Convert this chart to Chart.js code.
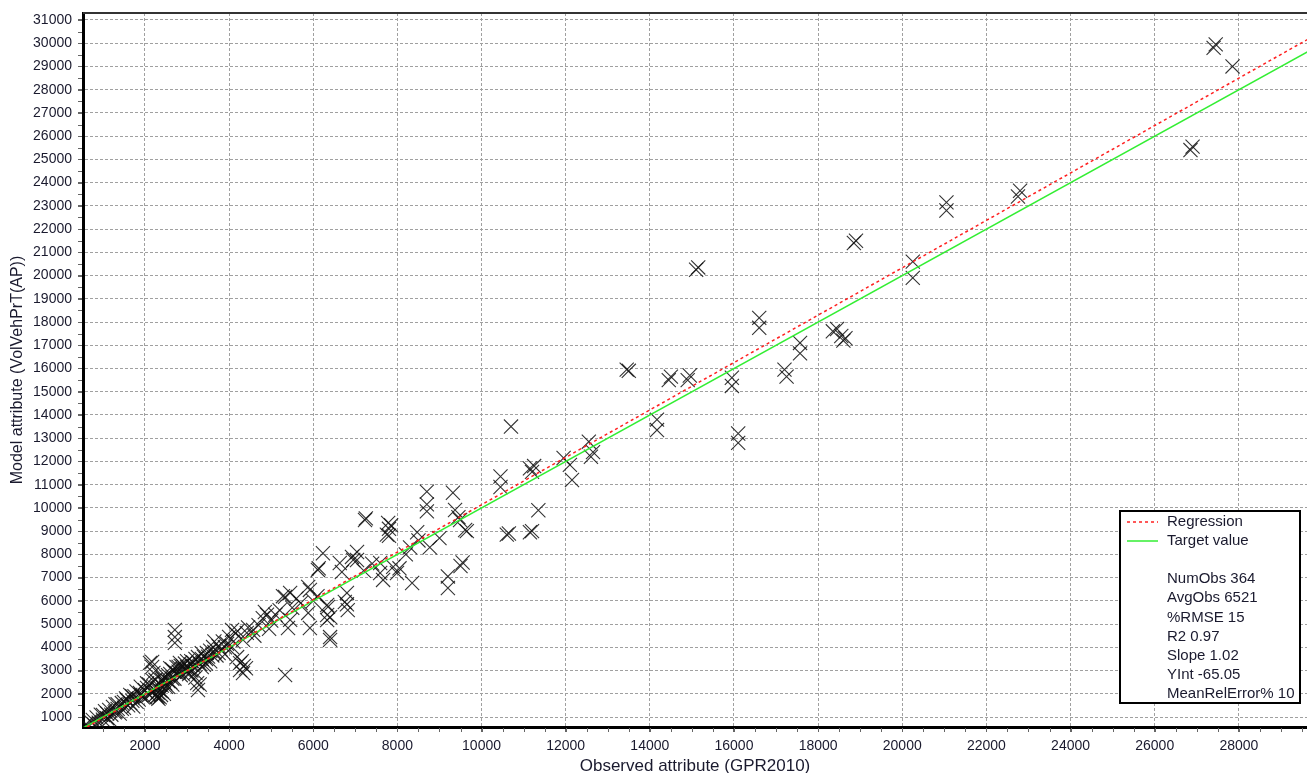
<!DOCTYPE html>
<html>
<head>
<meta charset="utf-8">
<script src="https://cdn.jsdelivr.net/npm/chart.js@4.4.0/dist/chart.umd.min.js"></script>
<style>
  html, body { margin: 0; padding: 0; background: #fff; }
  #wrap { width: 1307px; height: 773px; overflow: hidden; }
</style>
</head>
<body>
<div id="wrap"><canvas id="myChart" width="1307" height="773"></canvas></div>
<script>
// observed (GPR2010) vs model (VolVehPrT(AP))
const observed = [
  600, 650, 700, 760, 800, 850, 900, 950, 1000, 1000,
  1050, 1100, 1150, 1200, 1240, 1280, 1300, 1350, 1400, 1450,
  1500, 1550, 1570, 1600, 1650, 1700, 1720, 1750, 1800, 1850,
  1880, 1900, 1950, 2000, 2050, 2100, 2120, 2170, 2170, 2200,
  2200, 2250, 2290, 2300, 2320, 2350, 2380, 2400, 2420, 2450,
  2480, 2500, 2550, 2600, 2650, 2700, 2710, 2710, 2710, 2750,
  2800, 2830, 2850, 2900, 2950, 3000, 3050, 3100, 3150, 3200,
  3240, 3260, 3260, 3300, 3350, 3400, 3470, 3500, 3550, 3620,
  3650, 3700, 3750, 3800, 3850, 3900, 3950, 4000, 4070, 4070,
  4100, 4150, 4190, 4260, 4260, 4330, 4400, 4330, 4420, 4450,
  4570, 4600, 4700, 4800, 4850, 4900, 5000, 4950, 5100, 5200,
  1100, 1300, 1450, 1650, 1900, 2000, 2150, 2250, 2350, 2550,
  2650, 2750, 2850, 2950, 3050, 3150, 3350, 3450, 3600, 3750,
  2300, 2400, 2600, 2700, 2900, 3000, 3100, 3200, 3400, 3900,
  1150, 1350, 1500, 1700, 1800, 2050, 2100, 2200, 2250, 2300,
  2350, 2400, 2450, 2500, 2550, 2600, 2650, 2800, 2900, 3000,
  3100, 3200, 3300, 3350, 3450, 3550, 4300, 4350, 4200, 3650,
  5330, 5280, 5330, 5400, 5450, 5450, 5500, 5600, 5700, 5880,
  5880, 5920, 5920, 6000, 6100, 6110, 6130, 6230, 6330, 6330,
  6330, 6350, 6400, 6400, 6400, 6630, 6680, 6750, 6800, 6800,
  6820, 6920, 6950, 7040, 7040, 7230, 7250, 7590, 7590, 7660,
  7750, 7780, 7800, 7800, 7850, 7900, 7990, 8050, 8300, 8350,
  8470, 8700, 8700, 8700, 8770, 9000, 9200, 9200, 9320, 9370,
  9450, 9490, 9500, 9550, 9610, 9650, 8200, 8500, 7400, 7200,
  10450, 10450, 10600, 10650, 10700, 11150, 11200, 11150, 11200, 11250,
  11350, 11950, 12100, 12150, 12550, 12600, 12650, 13450, 13500, 14170,
  14170, 14450, 14500, 14900, 14950, 15100, 15150, 15950, 15950, 16100,
  16100, 16600, 16600, 17200, 17250, 17570, 17570, 18350, 18450, 18550,
  18600, 18650, 18850, 18900, 20250, 20250, 21050, 21050, 22750, 22800,
  26850, 26900, 27400, 27450, 27850
];
const modeled = [
  700, 560, 820, 870, 650, 980, 760, 1100, 1090, 880,
  1250, 950, 1300, 1100, 1430, 1200, 1550, 1350, 1150, 1600,
  1400, 1800, 1730, 1500, 1950, 1700, 1450, 1900, 2100, 1750,
  2030, 2300, 1850, 2150, 2450, 1950, 3330, 3370, 3150, 2900,
  2550, 2250, 1860, 2050, 1780, 2150, 1950, 2350, 2650, 2000,
  2450, 2750, 2550, 2850, 3050, 2650, 4750, 4440, 4190, 3150,
  2950, 3330, 3200, 3050, 3300, 3150, 2850, 3400, 3200, 2700,
  2460, 2160, 3580, 3300, 3500, 3250, 3760, 3600, 3400, 4010,
  3800, 3650, 4050, 3900, 4250, 3700, 4150, 4450, 4750, 4010,
  4250, 4600, 3580, 3320, 3020, 2890, 3100, 4320, 4620, 4850,
  4750, 4500, 4950, 5250, 5520, 5400, 5150, 4800, 5400, 5600,
  1150, 1250, 1350, 1600, 1950, 1850, 2100, 1950, 2400, 2300,
  2650, 2900, 2800, 3050, 3050, 3350, 3150, 3500, 3650, 3750,
  1900, 2100, 2500, 2950, 3200, 2950, 3000, 3500, 3600, 4000,
  900, 1550, 1650, 1900, 1650, 2250, 2400, 2100, 2600, 2250,
  1850, 2600, 2700, 2300, 2800, 3100, 2400, 3150, 2850, 3400,
  3250, 2900, 2400, 3750, 3300, 3850, 3400, 3200, 4700, 4250,
  2810, 6200, 6170, 4830, 5180, 6340, 5700, 6100, 5900, 6600,
  5480, 6470, 4830, 6000, 6200, 7330, 7400, 8050, 5820, 5170,
  5390, 5740, 5300, 4440, 4320, 7630, 7240, 5950, 6340, 5850,
  5600, 7890, 7760, 8100, 7760, 9480, 9550, 7630, 7200, 6900,
  8850, 9350, 9100, 8800, 9250, 7460, 7200, 7400, 8300, 6770,
  8950, 10700, 10150, 9850, 8300, 8700, 7050, 6550, 10650, 9910,
  9600, 9480, 7500, 7650, 9050, 9000, 8000, 8600, 7600, 7300,
  11350, 10900, 8850, 8900, 13500, 8950, 9000, 11700, 11550, 11800,
  9900, 12150, 11850, 11200, 12850, 12200, 12400, 15950, 15900, 13800,
  13350, 15500, 15650, 15500, 15700, 20250, 20350, 15600, 15250, 13200,
  12800, 18180, 17750, 15950, 15650, 17100, 16650, 17600, 17700, 17400,
  17200, 17300, 21400, 21500, 20600, 19900, 23150, 22800, 23400, 23650,
  25400, 25550, 29800, 29950, 29000
];

// fitted lines (end points)
const regressionX = [500, 29700];
const regressionY = [445, 30230];
const targetX = [500, 29700];
const targetY = [500, 29700];

const xTickValues = [2000, 4000, 6000, 8000, 10000, 12000, 14000, 16000, 18000, 20000, 22000, 24000, 26000, 28000];
const yTickValues = [1000, 2000, 3000, 4000, 5000, 6000, 7000, 8000, 9000, 10000, 11000, 12000, 13000, 14000, 15000, 16000,
  17000, 18000, 19000, 20000, 21000, 22000, 23000, 24000, 25000, 26000, 27000, 28000, 29000, 30000, 31000];

const legendLabels = ["Regression", "Target value"];
const statLines = ["NumObs 364", "AvgObs 6521", "%RMSE 15", "R2 0.97", "Slope 1.02", "YInt -65.05", "MeanRelError% 10"];

const FONT = "'Liberation Sans', Arial, sans-serif";
Chart.defaults.font.family = FONT;

const toPoints = (xs, ys) => xs.map((x, i) => ({ x: x, y: ys[i] }));

// frame, minor ticks and the stats box
const decorations = {
  id: "decorations",
  afterDraw(chart) {
    const ctx = chart.ctx;
    const area = chart.chartArea;
    const xs = chart.scales.x;
    const ys = chart.scales.y;
    ctx.save();

    // top border
    ctx.strokeStyle = "#333";
    ctx.lineWidth = 2;
    ctx.beginPath();
    ctx.moveTo(area.left, area.top);
    ctx.lineTo(area.right, area.top);
    ctx.stroke();

    // minor ticks
    ctx.strokeStyle = "#666";
    ctx.lineWidth = 1;
    ctx.beginPath();
    for (let v = 1000; v < xs.max; v += 500) {
      const px = Math.round(xs.getPixelForValue(v)) + 0.5;
      ctx.moveTo(px, area.bottom + 1);
      ctx.lineTo(px, area.bottom + 5);
    }
    for (let v = 1000; v < ys.max; v += 500) {
      const py = Math.round(ys.getPixelForValue(v)) + 0.5;
      ctx.moveTo(area.left - 5, py);
      ctx.lineTo(area.left - 1, py);
    }
    ctx.stroke();

    // stats box
    const bx = 1120, by = 511, bw = 180, bh = 192;
    ctx.fillStyle = "#fff";
    ctx.fillRect(bx, by, bw, bh);
    ctx.strokeStyle = "#000";
    ctx.lineWidth = 2;
    ctx.strokeRect(bx, by, bw, bh);

    ctx.lineWidth = 1.5;
    ctx.strokeStyle = "#ff2020";
    ctx.setLineDash([3, 3]);
    ctx.beginPath();
    ctx.moveTo(bx + 7, by + 11);
    ctx.lineTo(bx + 38, by + 11);
    ctx.stroke();
    ctx.setLineDash([]);
    ctx.strokeStyle = "#33ee33";
    ctx.beginPath();
    ctx.moveTo(bx + 7, by + 30);
    ctx.lineTo(bx + 38, by + 30);
    ctx.stroke();

    ctx.fillStyle = "#1a1a2e";
    ctx.font = "15px " + FONT;
    ctx.textBaseline = "middle";
    ctx.textAlign = "left";
    legendLabels.forEach((t, i) => ctx.fillText(t, bx + 47, by + 11 + i * 19));
    statLines.forEach((t, i) => ctx.fillText(t, bx + 47, by + 68 + i * 19.2));
    ctx.restore();
  }
};

const ctx = document.getElementById("myChart");

const myChart = new Chart(ctx, {
  type: "scatter",
  data: {
    datasets: [
      {
        label: "Regression",
        data: toPoints(regressionX, regressionY),
        showLine: true,
        borderColor: "#ff2020",
        borderWidth: 1.5,
        borderDash: [3, 3],
        pointRadius: 0,
        order: 0
      },
      {
        label: "Target value",
        data: toPoints(targetX, targetY),
        showLine: true,
        borderColor: "#33ee33",
        borderWidth: 1.5,
        pointRadius: 0,
        order: 1
      },
      {
        label: "Observations",
        data: toPoints(observed, modeled),
        pointStyle: "crossRot",
        pointRadius: 10,
        borderColor: "rgba(15,15,15,0.85)",
        borderWidth: 1.1,
        backgroundColor: "rgba(0,0,0,0)",
        order: 2
      }
    ]
  },
  options: {
    responsive: false,
    animation: false,
    devicePixelRatio: 1,
    events: [],
    layout: { autoPadding: false, padding: { top: 13, right: 0, left: 0, bottom: 0 } },
    plugins: { legend: { display: false }, tooltip: { enabled: false } },
    scales: {
      x: {
        type: "linear",
        min: 527,
        max: 29620,
        afterBuildTicks: (axis) => { axis.ticks = xTickValues.map((v) => ({ value: v })); },
        afterFit: (scale) => { scale.height = 46; scale.paddingRight = 0; scale.paddingLeft = 0; },
        ticks: { color: "#1a1a2e", font: { size: 14 }, padding: 6, maxRotation: 0, autoSkip: false, callback: (v) => String(v) },
        grid: { color: "#a0a0a0", lineWidth: 1, tickLength: 5, tickColor: "#666", tickBorderDash: [] },
        border: { display: true, color: "#000", width: 3, dash: [3, 2] },
        title: { display: true, text: "Observed attribute (GPR2010)", color: "#1a1a2e", font: { size: 17 }, padding: { top: 0, bottom: -4 } }
      },
      y: {
        type: "linear",
        min: 570,
        max: 31300,
        afterBuildTicks: (axis) => { axis.ticks = yTickValues.map((v) => ({ value: v })); },
        afterFit: (scale) => { scale.width = 83; scale.paddingTop = 0; scale.paddingBottom = 0; },
        ticks: { color: "#1a1a2e", font: { size: 14 }, padding: 6, autoSkip: false, callback: (v) => String(v) },
        grid: { color: "#a0a0a0", lineWidth: 1, tickLength: 5, tickColor: "#666", tickBorderDash: [] },
        border: { display: true, color: "#000", width: 3, dash: [3, 2] },
        title: { display: true, text: "Model attribute (VolVehPrT(AP))", color: "#1a1a2e", font: { size: 16 }, padding: { top: 8, bottom: 0 } }
      }
    }
  },
  plugins: [decorations]
});
</script>
</body>
</html>
